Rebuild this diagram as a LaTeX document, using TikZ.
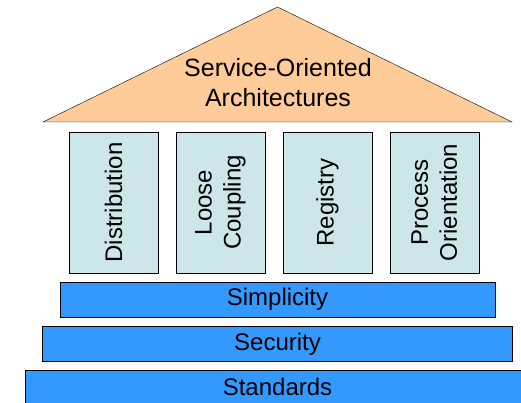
\documentclass[tikz,border=0pt]{standalone}
\usepackage{fontspec}
\setmainfont{Liberation Sans}
\usetikzlibrary{positioning}
\definecolor{roofcol}{HTML}{FFCC99}
\definecolor{pillarcol}{HTML}{CCE6EA}
\definecolor{layercol}{HTML}{3399FF}

\begin{document}
\begin{tikzpicture}[x=1pt,y=-1pt,
        pillar/.style={draw,fill=pillarcol,minimum width=89pt,minimum height=141pt,inner sep=0pt},
        pillartext/.style={rotate=90,align=center,font=\fontsize{24}{29}\selectfont},
        layer/.style={draw,fill=layercol,minimum height=35pt,inner sep=0pt,font=\fontsize{24}{29}\selectfont}]
        \useasboundingbox (0,0) rectangle (521,403);

        % roof
        \coordinate (apex) at (277.5,7);
        \coordinate (eaveL) at (43,122);
        \coordinate (eaveR) at (512,122);
        \draw[fill=roofcol] (eaveL) -- (apex) -- (eaveR) -- cycle;
        \node[align=center,font=\fontsize{25}{30}\selectfont] (soa) at (278,83) {Service-Oriented\\Architectures};

        % pillars
        \node[pillar] (dist) at (113.5,202.5) {};
        \node[pillar] (loose) [right=17.5pt of dist] {};
        \node[pillar] (reg) [right=17.5pt of loose] {};
        \node[pillar] (proc) [right=17.5pt of reg] {};

        \node[pillartext] (disttext) at (dist.center) {Distribution};
        \node[pillartext] (loosetext) at (loose.center) {Loose\\Coupling};
        \node[pillartext] (regtext) at (reg.center) {Registry};
        \node[pillartext] (proctext) at (proc.center) {Process\\Orientation};

        % foundation
        \node[layer,minimum width=435pt] (simpl) at (277.5,299.5) {Simplicity};
        \node[layer,minimum width=470pt] (secur) [below=9pt of simpl] {Security};
        \node[layer,minimum width=504pt] (stand) [below=8pt of secur] {Standards};
    \end{tikzpicture}
\end{document}
